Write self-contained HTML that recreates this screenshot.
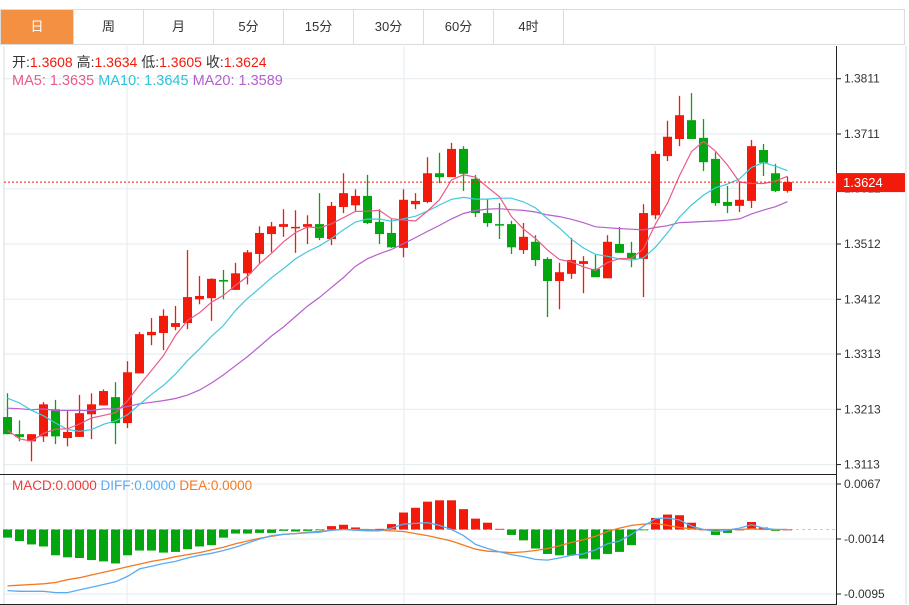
<!DOCTYPE html>
<html><head><meta charset="utf-8">
<style>
html,body{margin:0;padding:0;background:#fff;}
body{width:909px;height:605px;overflow:hidden;position:relative;font-family:"Liberation Sans","Noto Sans CJK SC",sans-serif;}
#tabs{position:absolute;left:0;top:9px;width:905px;height:36px;border:1px solid #dcdcdc;border-right:1px solid #dcdcdc;box-sizing:border-box;display:flex;}
.tab{width:70px;height:34px;line-height:34px;text-align:center;font-size:13px;color:#333;border-right:1px solid #dcdcdc;box-sizing:border-box;}
.tab.on{background:#f39041;color:#fff;width:73px;}
svg{position:absolute;left:0;top:0;}
</style></head><body>
<div id="tabs">
<div class="tab on">日</div>
<div class="tab">周</div>
<div class="tab">月</div>
<div class="tab">5分</div>
<div class="tab">15分</div>
<div class="tab">30分</div>
<div class="tab">60分</div>
<div class="tab">4时</div>
</div>
<svg id="chart" width="909" height="605"></svg>
<script>
const opens=[1.3199,1.3168,1.3155,1.3164,1.3213,1.3161,1.3163,1.3204,1.3220,1.3235,1.3188,1.3278,1.3347,1.3351,1.3362,1.3369,1.3412,1.3414,1.3447,1.3429,1.3459,1.3494,1.3530,1.3543,1.3541,1.3543,1.3548,1.3521,1.3579,1.3582,1.3599,1.3552,1.3532,1.3505,1.3584,1.3588,1.3640,1.3633,1.3684,1.3630,1.3568,1.3548,1.3548,1.3501,1.3516,1.3485,1.3445,1.3458,1.3476,1.3467,1.3450,1.3512,1.3496,1.3485,1.3564,1.3671,1.3702,1.3736,1.3704,1.3666,1.3588,1.3581,1.3590,1.3682,1.3640,1.3608];
const closes=[1.3168,1.3163,1.3168,1.3222,1.3164,1.3172,1.3206,1.3222,1.3246,1.3188,1.3280,1.3349,1.3353,1.3382,1.3369,1.3416,1.3418,1.3449,1.3444,1.3459,1.3497,1.3532,1.3544,1.3548,1.3543,1.3548,1.3523,1.3581,1.3604,1.3599,1.3550,1.3530,1.3506,1.3592,1.3590,1.3640,1.3633,1.3684,1.3639,1.3568,1.3550,1.3546,1.3506,1.3525,1.3483,1.3445,1.3461,1.3483,1.3481,1.3452,1.3516,1.3496,1.3485,1.3568,1.3675,1.3706,1.3745,1.3702,1.3660,1.3586,1.3581,1.3592,1.3689,1.3659,1.3608,1.3624];
const highs=[1.3242,1.3193,1.3168,1.3226,1.3230,1.3210,1.3239,1.3242,1.3249,1.3262,1.3300,1.3353,1.3378,1.3394,1.3400,1.3501,1.3454,1.3450,1.3465,1.3478,1.3501,1.3544,1.3552,1.3575,1.3573,1.3564,1.3604,1.3588,1.3640,1.3611,1.3637,1.3575,1.3557,1.3611,1.3604,1.3669,1.3677,1.3695,1.3689,1.3637,1.3593,1.3586,1.3554,1.3550,1.3528,1.3488,1.3478,1.3523,1.3490,1.3492,1.3528,1.3543,1.3516,1.3584,1.3680,1.3735,1.3780,1.3785,1.3738,1.3678,1.3617,1.3626,1.3700,1.3693,1.3657,1.3634];
const lows=[1.3168,1.3155,1.3119,1.3154,1.3150,1.3146,1.3163,1.3159,1.3220,1.3150,1.3179,1.3278,1.3329,1.3320,1.3356,1.3358,1.3403,1.3373,1.3412,1.3429,1.3439,1.3476,1.3497,1.3525,1.3496,1.3512,1.3519,1.3510,1.3568,1.3572,1.3548,1.3512,1.3505,1.3488,1.3575,1.3586,1.3622,1.3633,1.3608,1.3561,1.3543,1.3521,1.3494,1.3494,1.3472,1.3380,1.3394,1.3449,1.3423,1.3452,1.3450,1.3496,1.3470,1.3416,1.3557,1.3662,1.3689,1.3702,1.3644,1.3581,1.3568,1.3570,1.3577,1.3635,1.3606,1.3605];
const priorCloses=[1.3180,1.3210,1.3190,1.3220,1.3170,1.3200,1.3230,1.3185,1.3195,1.3190,1.3250,1.3300,1.3320,1.3295,1.3290,1.3240,1.3190,1.3150,1.3127];
const priceTicks=[1.3811,1.3711,1.3612,1.3512,1.3412,1.3313,1.3213,1.3113];
const lastPrice=1.3624;
const macdBars=[-0.0012,-0.0017,-0.0022,-0.0025,-0.0038,-0.0041,-0.0042,-0.0045,-0.0047,-0.0050,-0.0038,-0.0031,-0.0031,-0.0034,-0.0033,-0.0029,-0.0025,-0.0023,-0.0012,-0.0006,-0.0006,-0.0005,-0.0005,-0.0002,-0.0003,-0.0002,-0.0001,0.0005,0.0007,0.0003,-0.0001,0.0001,0.0008,0.0025,0.0032,0.0041,0.0043,0.0043,0.0030,0.0016,0.0010,0.0001,-0.0008,-0.0016,-0.0028,-0.0036,-0.0038,-0.0038,-0.0043,-0.0044,-0.0036,-0.0033,-0.0023,-0.0001,0.0017,0.0022,0.0021,0.0010,0.0000,-0.0008,-0.0005,0.0000,0.0011,0.0003,-0.0002,0.0000];
const diffVals=[-0.0090,-0.0091,-0.0091,-0.0091,-0.0093,-0.0093,-0.0089,-0.0085,-0.0081,-0.0077,-0.0069,-0.0058,-0.0054,-0.0050,-0.0047,-0.0042,-0.0038,-0.0035,-0.0031,-0.0026,-0.0020,-0.0014,-0.0009,-0.0007,-0.0006,-0.0005,-0.0004,-0.0001,0.0000,-0.0001,-0.0002,-0.0002,0.0002,0.0008,0.0009,0.0010,0.0006,0.0000,-0.0009,-0.0022,-0.0028,-0.0033,-0.0037,-0.0040,-0.0044,-0.0045,-0.0042,-0.0038,-0.0036,-0.0030,-0.0021,-0.0017,-0.0007,0.0005,0.0016,0.0017,0.0014,0.0005,0.0000,-0.0003,-0.0001,0.0002,0.0007,0.0002,0.0000,0.0000];
const deaVals=[-0.0083,-0.0082,-0.0081,-0.0080,-0.0078,-0.0074,-0.0071,-0.0067,-0.0063,-0.0059,-0.0055,-0.0051,-0.0047,-0.0044,-0.0040,-0.0037,-0.0034,-0.0030,-0.0026,-0.0021,-0.0017,-0.0013,-0.0010,-0.0007,-0.0006,-0.0004,-0.0003,-0.0001,0.0000,0.0000,0.0000,-0.0001,-0.0002,-0.0003,-0.0006,-0.0009,-0.0013,-0.0017,-0.0023,-0.0029,-0.0032,-0.0033,-0.0034,-0.0033,-0.0031,-0.0028,-0.0024,-0.0019,-0.0015,-0.0010,-0.0003,0.0002,0.0006,0.0008,0.0009,0.0006,0.0003,0.0001,0.0000,0.0000,0.0000,0.0000,0.0001,0.0000,0.0000,0.0000];
const macdTicks=[0.0067,-0.0014,-0.0095];

const NS='http://www.w3.org/2000/svg';
const svg=document.getElementById('chart');
const RED='#f21a0b',GREEN='#04a60f',GRID='#e3ebf1';
function el(tag,attrs,parent){const e=document.createElementNS(NS,tag);for(const k in attrs)e.setAttribute(k,attrs[k]);(parent||svg).appendChild(e);return e;}
const xOf=i=>7.5+12*i;
const yP=p=>134+(1.3711-p)*5528;
const yM=v=>529.5-v*6790;

const grid=el('g',{});


[127,404,655].forEach(x=>{el('line',{x1:x,y1:46,x2:x,y2:604,stroke:GRID,'stroke-width':1},grid);});
priceTicks.forEach(t=>{el('line',{x1:4,y1:yP(t),x2:836,y2:yP(t),stroke:GRID,'stroke-width':1},grid);});
macdTicks.forEach(t=>{el('line',{x1:4,y1:yM(t),x2:836,y2:yM(t),stroke:GRID,'stroke-width':1},grid);});
el('line',{x1:4,y1:46,x2:4,y2:604,stroke:'#d5dde3'},grid);
el('line',{x1:906,y1:46,x2:906,y2:604,stroke:'#d5dde3'},grid);
el('line',{x1:0,y1:474.5,x2:836,y2:474.5,stroke:'#222','stroke-width':1},grid);
el('line',{x1:0,y1:604.5,x2:836,y2:604.5,stroke:'#222','stroke-width':1},grid);
el('line',{x1:836.5,y1:46,x2:836.5,y2:605,stroke:'#222','stroke-width':1},grid);

const pax=el('g',{});


priceTicks.forEach(t=>{
  el('line',{x1:836,y1:yP(t),x2:841,y2:yP(t),stroke:'#222'},pax);
  const tx=el('text',{x:844,y:yP(t)+4,'font-size':12,fill:'#333'},pax);tx.textContent=t.toFixed(4);
});
const max=el('g',{});


macdTicks.forEach(t=>{
  el('line',{x1:836,y1:yM(t),x2:841,y2:yM(t),stroke:'#222'},max);
  const tx=el('text',{x:844,y:yM(t)+4,'font-size':12,fill:'#333'},max);tx.textContent=t.toFixed(4);
});

const cg=el('g',{});


closes.forEach((c,i)=>{
  const o=opens[i],up=c>=o,col=up?RED:GREEN,x=xOf(i);
  const g=el('g',{},cg);
  
  
  el('line',{x1:x,y1:yP(highs[i]),x2:x,y2:yP(lows[i]),stroke:col,'stroke-width':1.3},g);
  const top=yP(Math.max(o,c)),bot=yP(Math.min(o,c));
  el('rect',{x:x-4.5,y:top,width:9,height:Math.max(1.5,bot-top),fill:col},g);
});

const all=priorCloses.concat(closes),P=priorCloses.length;
function ma(n){return closes.map((_,i)=>{let s=0;for(let k=0;k<n;k++)s+=all[P+i-k];return s/n;});}
function poly(vals,yf,color,name,w){
  const p=el('polyline',{points:vals.map((v,i)=>xOf(i)+','+yf(v).toFixed(1)).join(' '),fill:'none',stroke:color,'stroke-width':w||1.2});
  
  
}
poly(ma(20),yP,'#b65fce','ma20-line');
poly(ma(10),yP,'#42c8dc','ma10-line');
poly(ma(5),yP,'#ec5a86','ma5-line');

const lp=el('line',{x1:4,y1:yP(lastPrice),x2:836,y2:yP(lastPrice),stroke:RED,'stroke-dasharray':'2,2','stroke-width':1});


const lb=el('g',{});


el('rect',{x:836,y:yP(lastPrice)-9,width:69,height:19,fill:RED},lb);
const lt=el('text',{x:843,y:yP(lastPrice)+5,'font-size':13,fill:'#fff'},lb);lt.textContent=lastPrice.toFixed(4);

const zl=el('line',{x1:4,y1:yM(0),x2:836,y2:yM(0),stroke:'#a8d4e6','stroke-dasharray':'3,3'});


const mg=el('g',{});


macdBars.forEach((v,i)=>{
  const y0=yM(0),y1=yM(v);
  const r=el('rect',{x:xOf(i)-4.5,y:Math.min(y0,y1),width:9,height:Math.max(0.8,Math.abs(y1-y0)),fill:v>=0?RED:GREEN},mg);
  
  
});
poly(deaVals,yM,'#f5781f','dea-line',1.3);
poly(diffVals,yM,'#5aabf2','diff-line',1.3);

function legend(x,y,parts,name,fs){
  const t=el('text',{x:x,y:y,'font-size':fs});
  
  
  parts.forEach(([s,c])=>{const ts=el('tspan',{fill:c},t);ts.textContent=s;});
}
legend(12,67,[['开:','#333'],['1.3608  ',RED],['高:','#333'],['1.3634  ',RED],['低:','#333'],['1.3605  ',RED],['收:','#333'],['1.3624',RED]],'ohlc-legend',14);
legend(12,85,[['MA5: 1.3635  ','#ec5a86'],['MA10: 1.3645  ','#2bc4d9'],['MA20: 1.3589','#b65fce']],'ma-legend',14.5);
legend(12,490,[['MACD:0.0000  ','#f03a3a'],['DIFF:0.0000  ','#5aabf2'],['DEA:0.0000','#f5781f']],'macd-legend',13.5);
</script>
</body></html>
